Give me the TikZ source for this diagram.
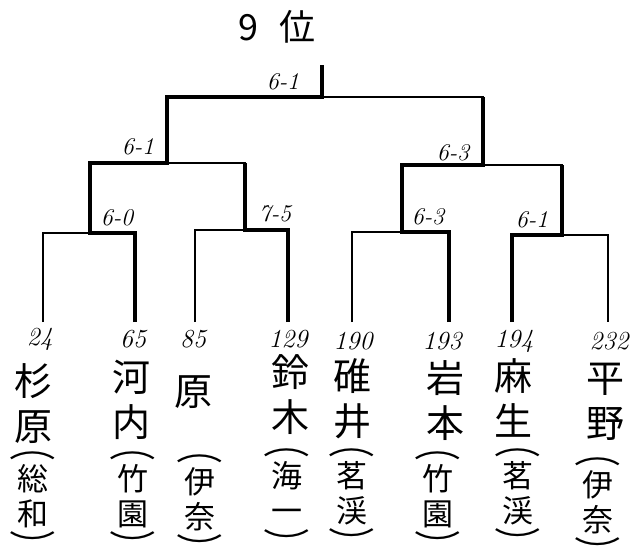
\documentclass[tikz,border=0pt]{standalone}
\usepackage{fontspec}
\newfontfamily\jp{Noto Sans CJK JP}
\usetikzlibrary{positioning}
\newcommand\opn{\raisebox{0.12em}[0.4em][0pt]{\scalebox{1.5}[1]{︵}}}
\newcommand\cls{\raisebox{-0.45em}[0.4em][0pt]{\scalebox{1.5}[1]{︶}}}

\begin{document}
\begin{tikzpicture}[x=1pt,y=-1pt,node distance=3pt,
 ln/.style={line width=1.3pt,line join=miter},
 win/.style={line width=4.2pt,line join=miter},
 num/.style={font=\fontsize{26}{26}\selectfont\itshape,inner sep=0pt},
 score/.style={font=\fontsize{24}{24}\selectfont\itshape,inner sep=0pt},
 nm/.style={font=\jp\fontsize{38}{45}\selectfont,align=center,inner sep=0pt,anchor=north},
 sch/.style={font=\jp\fontsize{31}{35}\selectfont,align=center,inner sep=0pt,anchor=north},
 par/.style={font=\jp\fontsize{31}{31}\selectfont,inner sep=0pt}]
\useasboundingbox (0,0) rectangle (640,547);
\node[font=\jp\fontsize{36}{36}\selectfont] (title) at (277,27) {9\hspace{0.6em}位};
% leaves, first matches, semis, final
\coordinate (l1) at (43,322);\coordinate (l2) at (135,322);\coordinate (l3) at (195,322);\coordinate (l4) at (288,322);
\coordinate (l5) at (352,322);\coordinate (l6) at (449,322);\coordinate (l7) at (512,322);\coordinate (l8) at (608,322);
\coordinate (m1) at (90,233);\coordinate (m2) at (245,230);\coordinate (m3) at (402,232);\coordinate (m4) at (562,235);
\coordinate (s1) at (167,163);\coordinate (s2) at (483,165);
\coordinate (f) at (322,97);\coordinate (fr) at (483,97);\coordinate (top) at (322,65);
% bracket
\draw[ln] (l1) |- (m1) -| (l2);\draw[ln] (l3) |- (m2) -| (l4);\draw[ln] (l5) |- (m3) -| (l6);\draw[ln] (l7) |- (m4) -| (l8);
\draw[ln] (m1) |- (s1) -| (m2);\draw[ln] (m3) |- (s2) -| (m4);
\draw[ln] (s1) |- (f) -| (s2);\draw[ln] (f) -- (top);
% winners
\draw[win] (l2) |- (m1) |- (s1) |- (f) -- (top);
\draw[win] (l4) |- (m2) -- (m2 |- s1);
\draw[win] (l6) |- (m3) |- (s2) -- (fr);
\draw[win] (l7) |- (m4) -- (m4 |- s2);
% scores
\node[score] (sf) at (283,82) {6-1};
\node[score] (ss1) at (138,147) {6-1};\node[score] (ss2) at (453,153) {6-3};
\node[score] (sm1) at (117,218) {6-0};\node[score] (sm2) at (275,214) {7-5};
\node[score] (sm3) at (428,217) {6-3};\node[score] (sm4) at (532,220) {6-1};
% players
\node[num] (p1) at (40,339) {24};\node[num] (p2) at (133,339) {65};\node[num] (p3) at (193,339) {85};\node[num] (p4) at (288,339) {129};
\node[num] (p5) at (353,341) {190};\node[num] (p6) at (442,341) {193};\node[num] (p7) at (514,341) {194};\node[num] (p8) at (609,341) {232};
\node[nm] (n1) at (33,363) {杉\\原};\node[nm] (n2) at (131,360) {河\\内};
\node[nm] (n3) at (193,375) {原};\node[nm] (n4) at (290,354) {鈴\\木};
\node[nm] (n5) at (352,358) {碓\\井};\node[nm] (n6) at (445,360) {岩\\本};
\node[nm] (n7) at (513,358) {麻\\生};\node[nm] (n8) at (605,363) {平\\野};
% schools
\node[sch] (k1) at (33,464) {総\\和};\node[sch] (k2) at (133,464) {竹\\園};
\node[sch] (k3) at (200,467) {伊\\奈};\node[sch] (k4) at (287,461) {海\\一};
\node[sch] (k5) at (352,461) {茗\\渓};\node[sch] (k6) at (438,464) {竹\\園};
\node[sch] (k7) at (518,461) {茗\\渓};\node[sch] (k8) at (598,470) {伊\\奈};
\node[par,above=of k1] (o1) {\opn};\node[par,below=of k1] (c1) {\cls};
\node[par,above=of k2] (o2) {\opn};\node[par,below=of k2] (c2) {\cls};
\node[par,above=of k3] (o3) {\opn};\node[par,below=of k3] (c3) {\cls};
\node[par,above=of k4] (o4) {\opn};\node[par,below=6pt of k4] (c4) {\cls};
\node[par,above=of k5] (o5) {\opn};\node[par,below=of k5] (c5) {\cls};
\node[par,above=of k6] (o6) {\opn};\node[par,below=of k6] (c6) {\cls};
\node[par,above=of k7] (o7) {\opn};\node[par,below=of k7] (c7) {\cls};
\node[par,above=of k8] (o8) {\opn};\node[par,below=of k8] (c8) {\cls};
\end{tikzpicture}
\end{document}
